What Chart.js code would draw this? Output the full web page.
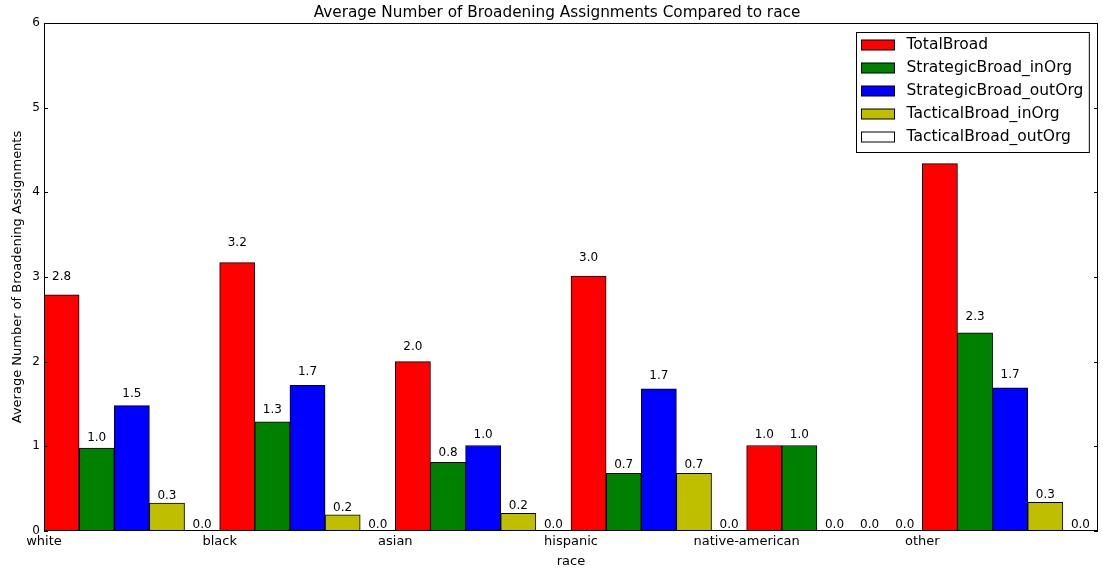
<!DOCTYPE html>
<html>
<head>
<meta charset="utf-8">
<script src="https://cdn.jsdelivr.net/npm/chart.js@4.4.1/dist/chart.umd.min.js"></script>
<style>
  html, body { margin: 0; padding: 0; background: #fff; }
  canvas { display: block; }
</style>
</head>
<body>
<canvas id="chart" width="1103" height="571"></canvas>
<script>
const races = ['white', 'black', 'asian', 'hispanic', 'native-american', 'other'];

const totalBroad        = [2.79, 3.17, 2.00, 3.01, 1.01, 4.34];
const strategicInOrg    = [0.98, 1.29, 0.81, 0.68, 1.01, 2.34];
const strategicOutOrg   = [1.48, 1.72, 1.01, 1.68, 0.00, 1.69];
const tacticalInOrg     = [0.33, 0.19, 0.21, 0.68, 0.00, 0.34];
const tacticalOutOrg    = [0.00, 0.00, 0.00, 0.00, 0.00, 0.00];

const yTicks = [0, 1, 2, 3, 4, 5, 6];

const FONT = '"DejaVu Sans", "Bitstream Vera Sans", sans-serif';

const series = [
  { label: 'TotalBroad',            values: totalBroad,      color: '#ff0000' },
  { label: 'StrategicBroad_inOrg',  values: strategicInOrg,  color: '#008000' },
  { label: 'StrategicBroad_outOrg', values: strategicOutOrg, color: '#0000ff' },
  { label: 'TacticalBroad_inOrg',   values: tacticalInOrg,   color: '#bfbf00' },
  { label: 'TacticalBroad_outOrg',  values: tacticalOutOrg,  color: '#ffffff' },
];

// each group sits between two integer ticks, so the race name marks its left edge
const datasets = series.map(s => ({
  label: s.label,
  data: s.values.map((v, i) => ({ x: i + 0.5, y: v })),
  backgroundColor: s.color,
  borderColor: '#000',
  borderWidth: 1,
  borderSkipped: false,
  categoryPercentage: 1,
  barPercentage: 1,
}));

// frame, inward ticks, value labels, legend box and title, matplotlib style
const decor = {
  id: 'decor',
  afterDatasetsDraw(chart) {
    const ctx = chart.ctx;
    const y = chart.scales.y;
    ctx.save();
    ctx.font = '12px ' + FONT;
    ctx.fillStyle = '#000';
    ctx.textAlign = 'center';
    ctx.textBaseline = 'bottom';
    chart.data.datasets.forEach((ds, di) => {
      chart.getDatasetMeta(di).data.forEach((bar, i) => {
        const v = ds.data[i].y;
        ctx.fillText(v.toFixed(1), bar.x, y.getPixelForValue(1.05 * v));
      });
    });
    ctx.restore();
  },
  afterDraw(chart) {
    const ctx = chart.ctx;
    const ca = chart.chartArea;
    const y = chart.scales.y;
    ctx.save();

    // axes frame and tick marks
    ctx.strokeStyle = '#000';
    ctx.lineWidth = 1;
    ctx.strokeRect(Math.round(ca.left) + 0.5, Math.round(ca.top) + 0.5,
                   Math.round(ca.width) - 1, Math.round(ca.height) - 1);
    ctx.beginPath();
    yTicks.forEach(t => {
      const py = Math.round(y.getPixelForValue(t)) + 0.5;
      ctx.moveTo(ca.left, py); ctx.lineTo(ca.left + 4, py);
      ctx.moveTo(ca.right, py); ctx.lineTo(ca.right - 4, py);
    });
    ctx.stroke();

    // legend
    ctx.font = '15.5px ' + FONT;
    const textW = Math.max(...series.map(s => ctx.measureText(s.label).width));
    const lw = 50 + textW + 6;
    const lh = 120;
    const lx = Math.round(ca.right - 9 - lw) + 0.5;
    const ly = Math.round(ca.top + 9) + 0.5;
    ctx.fillStyle = '#fff';
    ctx.fillRect(lx, ly, lw, lh);
    ctx.strokeStyle = '#000';
    ctx.strokeRect(lx, ly, lw, lh);
    ctx.textAlign = 'left';
    ctx.textBaseline = 'middle';
    series.forEach((s, i) => {
      const cy = ly + 12 + 23 * i;
      ctx.fillStyle = s.color;
      ctx.fillRect(lx + 5, Math.round(cy - 5), 33, 10);
      ctx.strokeRect(lx + 5, Math.round(cy - 5), 33, 10);
      ctx.fillStyle = '#000';
      ctx.fillText(s.label, lx + 50, cy);
    });

    // title
    ctx.font = '15.3px ' + FONT;
    ctx.textAlign = 'center';
    ctx.textBaseline = 'middle';
    ctx.fillText('Average Number of Broadening Assignments Compared to race', 557, 13);
    ctx.restore();
  }
};

new Chart(document.getElementById('chart'), {
  type: 'bar',
  data: { datasets },
  options: {
    responsive: false,
    animation: false,
    layout: { padding: { top: 23, right: 5, left: 0, bottom: 0 } },
    plugins: {
      legend: { display: false },
      tooltip: { enabled: false },
    },
    scales: {
      x: {
        type: 'linear',
        min: 0,
        max: 6,
        offset: false,
        grid: { display: false, drawTicks: false },
        border: { display: false },
        ticks: {
          stepSize: 1,
          autoSkip: false,
          maxRotation: 0,
          padding: 3,
          color: '#000',
          font: { family: FONT, size: 13 },
          callback: v => races[v] ?? '',
        },
        title: {
          display: true,
          text: 'race',
          color: '#000',
          font: { family: FONT, size: 13 },
          padding: { top: 0, bottom: 2 },
        },
        afterFit: s => { s.height = 40; },
      },
      y: {
        min: 0,
        max: 6,
        grid: { display: false, drawTicks: false },
        border: { display: false },
        afterBuildTicks: s => { s.ticks = yTicks.map(v => ({ value: v })); },
        ticks: {
          padding: 4,
          color: '#000',
          font: { family: FONT, size: 12 },
        },
        title: {
          display: true,
          text: 'Average Number of Broadening Assignments',
          color: '#000',
          font: { family: FONT, size: 13 },
          padding: { top: 10, bottom: 0 },
        },
        afterFit: s => { s.width = 44; },
      },
    },
  },
  plugins: [decor],
});
</script>
</body>
</html>
